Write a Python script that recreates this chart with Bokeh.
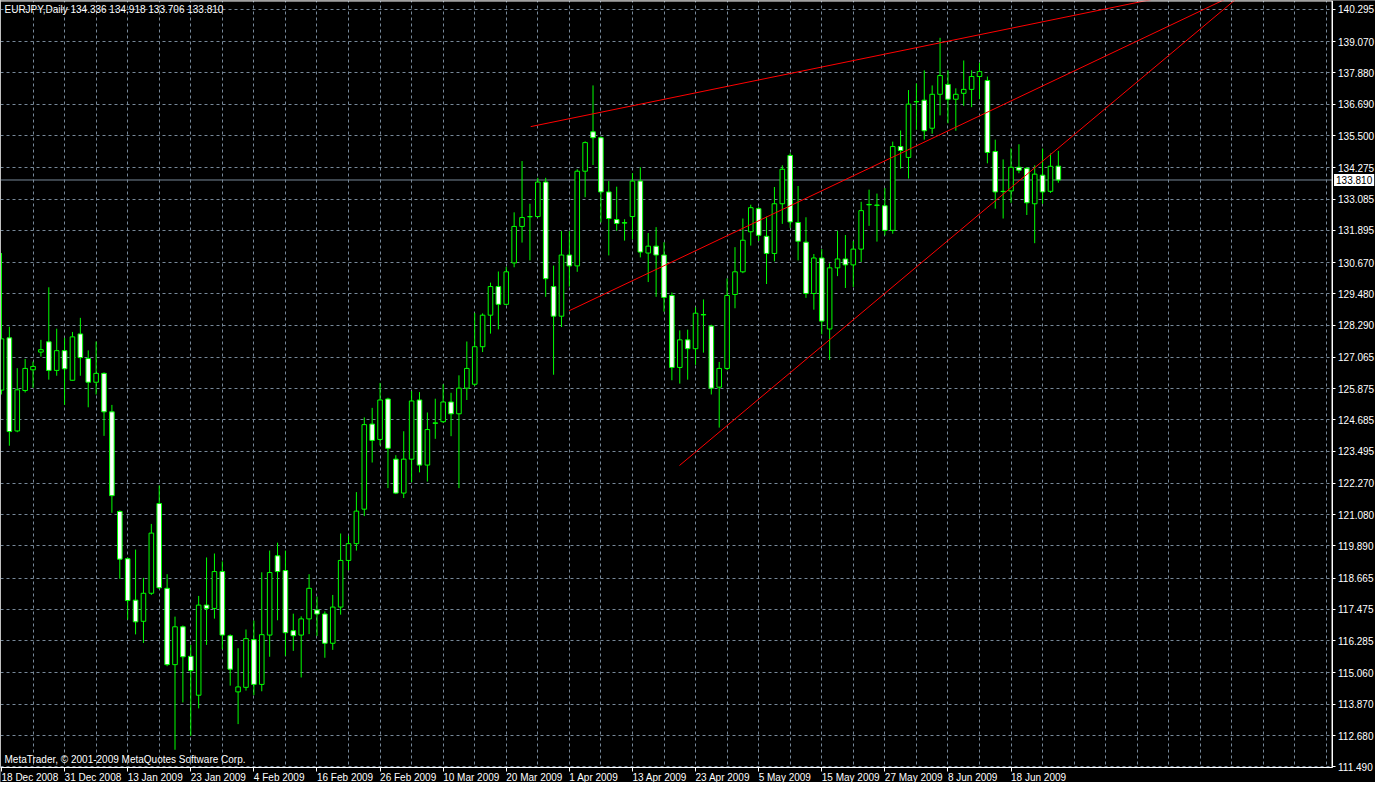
from bokeh.plotting import figure
from bokeh.models import Range1d, FixedTicker, Span, Label, ColumnDataSource, PrintfTickFormatter
from bokeh.embed import file_html
from bokeh.resources import INLINE

symbol_text = "EURJPY,Daily  134.336 134.918 133.706 133.810"
copyright_text = "MetaTrader, © 2001-2009 MetaQuotes Software Corp."

date_labels = ["18 Dec 2008", "31 Dec 2008", "13 Jan 2009", "23 Jan 2009", "4 Feb 2009",
               "16 Feb 2009", "26 Feb 2009", "10 Mar 2009", "20 Mar 2009", "1 Apr 2009",
               "13 Apr 2009", "23 Apr 2009", "5 May 2009", "15 May 2009", "27 May 2009",
               "8 Jun 2009", "18 Jun 2009"]
date_label_bars = [0, 8, 16, 24, 32, 40, 48, 56, 64, 72, 80, 88, 96, 104, 112, 120, 128]

price_ticks = [140.295, 139.070, 137.880, 136.690, 135.500, 134.275, 133.085, 131.895,
               130.670, 129.480, 128.290, 127.065, 125.875, 124.685, 123.495, 122.270,
               121.080, 119.890, 118.665, 117.475, 116.285, 115.060, 113.870, 112.680, 111.490]

opens = [125.818, 127.805, 124.265, 125.802, 126.590, 127.265, 127.655, 126.568, 127.318, 126.193,
         127.955, 127.018, 126.118, 126.455, 124.992, 121.204, 119.404, 117.829, 117.026, 118.091,
         121.504, 118.279, 115.376, 116.816, 115.691, 114.213, 117.641, 117.514, 118.916, 116.478,
         114.340, 114.513, 116.328, 114.625, 116.501, 119.516, 118.954, 116.666, 116.501, 117.116,
         117.454, 117.303, 116.189, 117.566, 119.340, 119.978, 121.290, 124.527, 123.942, 125.480,
         123.192, 121.902, 123.192, 125.442, 122.967, 124.553, 124.617, 125.367, 124.917, 125.892,
         126.042, 127.468, 128.668, 129.756, 129.081, 130.656, 132.044, 132.419, 132.419, 133.731,
         129.756, 128.630, 130.956, 130.543, 134.144, 135.644, 135.419, 133.356, 132.306, 132.186,
         132.419, 133.769, 131.031, 131.293, 130.956, 129.418, 126.680, 127.730, 127.393, 128.691,
         128.255, 125.930, 126.643, 129.456, 130.318, 131.841, 132.719, 131.668, 131.016, 132.906,
         134.744, 132.194, 131.444, 129.493, 130.843, 128.143, 130.468, 130.806, 130.581, 131.181,
         132.880, 132.843, 132.831, 131.894, 135.082, 134.669, 136.792, 136.845, 135.779, 137.070,
         137.445, 136.882, 137.107, 137.257, 137.745, 137.595, 134.894, 133.379, 133.394, 134.294,
         134.257, 132.906, 133.994, 133.379, 134.336]

highs = [131.031, 128.229, 126.654, 127.003, 126.905, 127.730, 129.729, 128.154, 127.805, 128.030,
         128.567, 127.329, 127.667, 126.493, 125.255, 121.242, 119.453, 119.753, 118.676, 120.728,
         122.191, 118.815, 117.202, 116.865, 116.126, 117.990, 119.453, 119.603, 119.303, 116.527,
         116.002, 116.715, 117.052, 118.890, 119.715, 120.015, 119.715, 117.315, 117.213, 118.815,
         117.964, 117.401, 118.027, 120.364, 120.278, 121.939, 124.779, 125.142, 126.091, 125.529,
         123.342, 124.253, 125.780, 125.742, 124.966, 125.491, 126.042, 125.716, 126.380, 127.667,
         128.754, 128.736, 129.906, 130.330, 130.506, 132.580, 134.530, 132.906, 133.893, 133.893,
         130.555, 131.867, 131.867, 134.219, 135.280, 137.407, 135.468, 133.769, 133.555, 132.317,
         134.069, 134.294, 131.792, 132.017, 131.444, 129.531, 128.090, 128.117, 128.968, 129.268,
         128.304, 126.890, 130.067, 131.256, 132.344, 132.869, 132.779, 132.419, 133.544, 134.369,
         134.830, 133.581, 132.392, 130.993, 131.181, 130.641, 131.879, 131.717, 131.492, 132.981,
         133.443, 133.293, 133.506, 135.269, 135.693, 137.231, 137.482, 137.981, 137.407, 139.219,
         137.981, 137.295, 138.356, 137.981, 138.270, 137.745, 135.344, 134.594, 135.007, 135.168,
         134.294, 134.369, 135.007, 134.819, 134.918]

lows = [125.652, 123.702, 124.216, 125.728, 125.904, 127.093, 126.215, 126.365, 125.255, 126.185,
        126.365, 125.165, 125.652, 124.077, 121.152, 118.639, 117.090, 116.527, 116.201, 118.027,
        118.252, 115.316, 112.139, 113.939, 112.664, 113.714, 116.126, 117.127, 115.964, 114.577,
        113.114, 114.389, 114.213, 114.363, 115.676, 117.063, 115.713, 115.901, 114.888, 116.538,
        116.463, 115.638, 115.938, 117.277, 118.965, 119.715, 121.028, 123.064, 123.717, 122.089,
        121.864, 121.714, 122.315, 122.689, 122.341, 123.965, 124.565, 124.066, 122.089, 125.442,
        125.979, 127.265, 127.967, 128.128, 129.043, 130.491, 131.429, 130.753, 132.392, 129.366,
        126.403, 128.218, 129.756, 130.318, 133.154, 134.380, 132.194, 130.941, 131.879, 131.504,
        131.556, 130.866, 129.928, 129.366, 128.803, 126.193, 126.065, 126.215, 126.778, 127.243,
        125.652, 124.392, 126.579, 128.931, 130.266, 131.316, 131.492, 129.853, 130.716, 132.141,
        131.991, 130.753, 129.328, 128.878, 127.940, 126.965, 130.153, 129.703, 129.741, 130.693,
        132.066, 131.466, 131.706, 131.766, 134.242, 133.866, 135.719, 135.344, 135.569, 136.267,
        135.967, 135.682, 136.631, 136.582, 136.882, 134.444, 132.719, 132.344, 132.944, 134.069,
        132.479, 131.406, 132.906, 133.319, 133.706]

closes = [127.768, 124.242, 125.829, 126.643, 126.718, 127.355, 126.568, 127.318, 126.628, 127.843,
          127.055, 126.118, 126.455, 124.992, 121.804, 119.389, 117.814, 117.003, 118.091, 120.379,
          118.301, 115.376, 116.816, 115.676, 115.150, 117.641, 117.514, 118.916, 116.501, 115.203,
          114.528, 116.366, 114.625, 116.516, 118.879, 118.916, 116.591, 116.478, 117.116, 118.279,
          117.303, 116.189, 117.566, 119.340, 119.978, 121.215, 124.505, 123.905, 125.442, 123.604,
          121.902, 123.192, 125.405, 122.967, 124.317, 124.572, 125.367, 124.917, 125.892, 126.643,
          127.468, 128.668, 129.756, 129.081, 130.318, 132.044, 132.381, 132.411, 133.731, 130.056,
          128.630, 130.956, 130.543, 134.144, 135.232, 135.419, 133.356, 132.344, 132.156, 132.171,
          133.769, 131.069, 131.293, 130.956, 129.343, 126.680, 127.730, 127.393, 128.743, 128.679,
          125.892, 126.643, 129.418, 130.318, 131.519, 132.756, 131.706, 131.016, 132.906, 134.219,
          132.216, 131.481, 129.493, 130.843, 128.443, 130.468, 130.806, 130.581, 131.181, 132.644,
          132.865, 132.858, 131.894, 135.082, 134.932, 136.695, 136.784, 135.682, 137.070, 137.782,
          136.882, 137.070, 137.257, 137.745, 137.932, 134.857, 133.356, 133.371, 134.294, 134.182,
          132.944, 134.032, 133.356, 134.332, 133.810]

last_price = 133.810

# trend lines drawn on the chart (bar index, price)
trend_start_bar = [67.1, 72.0, 85.96]
trend_start_price = [135.84, 128.84, 122.95]
trend_end_bar = [170.0, 170.0, 170.0]
trend_end_price = [142.16, 142.80, 144.08]

FONT = "Liberation Sans"
FS = "10px"
GREEN = "#00ff00"
GRID = "#778899"

# chart window (in bar / price units) and full canvas ranges
CH_LEFT, CH_RIGHT = -0.125, 168.7
CH_BOTTOM, CH_TOP = 111.464, 140.618
X_END = 174.21
Y_START, Y_END = 110.8935, 140.637

bars = list(range(len(opens)))
src = ColumnDataSource(dict(
    x=bars,
    open=opens, high=highs, low=lows, close=closes,
    top=[max(o, c) for o, c in zip(opens, closes)],
    bottom=[min(o, c) for o, c in zip(opens, closes)],
    fill=["white" if c < o else "black" for o, c in zip(opens, closes)],
))

p = figure(width=1375, height=782, output_backend="svg", toolbar_location=None,
           x_range=Range1d(CH_LEFT, X_END), y_range=Range1d(Y_START, Y_END),
           y_axis_location="right",
           background_fill_color="black", border_fill_color="black",
           outline_line_color=None, min_border=0,
           min_border_left=0, min_border_right=0, min_border_top=0, min_border_bottom=0)

# grid
p.xgrid.ticker = FixedTicker(ticks=list(range(4, 169, 4)))
for g in (p.xgrid, p.ygrid):
    g.grid_line_color = GRID
    g.grid_line_dash = "3 3"
    g.grid_line_width = 1

# current price line
p.add_layout(Span(location=last_price, dimension="width", line_color=GRID, line_width=1,
                  level="underlay"))

# y axis (price scale) at the right edge of the chart window
p.yaxis.fixed_location = CH_RIGHT
p.yaxis.bounds = (CH_BOTTOM, CH_TOP)
p.yaxis.ticker = FixedTicker(ticks=price_ticks)
p.yaxis.formatter = PrintfTickFormatter(format="%.3f")
p.yaxis.major_label_text_color = "white"
p.yaxis.major_label_text_font = FONT
p.yaxis.major_label_text_font_size = FS
p.yaxis.axis_line_color = "white"
p.yaxis.major_tick_line_color = "white"
p.yaxis.major_tick_out = 3
p.yaxis.major_tick_in = 0
p.yaxis.minor_tick_line_color = None
p.yaxis.major_label_standoff = 3

# x axis (time scale) at the bottom edge of the chart window
p.xaxis.fixed_location = CH_BOTTOM
p.xaxis.bounds = (CH_LEFT, CH_RIGHT)
p.xaxis.ticker = FixedTicker(ticks=date_label_bars)
p.xaxis.major_label_text_color = None
p.xaxis.axis_line_color = "white"
p.xaxis.major_tick_line_color = "white"
p.xaxis.major_tick_out = 4
p.xaxis.major_tick_in = 0
p.xaxis.minor_tick_line_color = None

# candles
p.segment(x0="x", y0="low", x1="x", y1="high", source=src, line_color=GREEN, line_width=1)
p.vbar(x="x", width=0.58, top="top", bottom="bottom", source=src,
       fill_color="fill", line_color=GREEN, line_width=1)

# trend lines
p.segment(x0=trend_start_bar, y0=trend_start_price, x1=trend_end_bar, y1=trend_end_price,
          line_color="#ff0000", line_width=1)

# mask the scale areas outside the chart window, then the window border
p.quad(left=[CH_RIGHT, CH_LEFT], right=[X_END, X_END], bottom=[Y_START, Y_START],
       top=[Y_END, CH_BOTTOM], fill_color="black", line_color=None)
p.quad(left=[CH_LEFT], right=[CH_RIGHT], bottom=[CH_BOTTOM], top=[CH_TOP],
       fill_color=None, line_color="white", line_width=1)

# texts
p.add_layout(Label(x=CH_LEFT, y=CH_TOP, x_offset=4, y_offset=-3, text=symbol_text,
                   text_baseline="top", text_color="white", text_font=FONT, text_font_size=FS))
p.add_layout(Label(x=CH_LEFT, y=CH_BOTTOM, x_offset=4, y_offset=3, text=copyright_text,
                   text_baseline="bottom", text_color="white", text_font=FONT, text_font_size=FS))
for b, lab in zip(date_label_bars, date_labels):
    p.add_layout(Label(x=b, y=CH_BOTTOM, x_offset=0, y_offset=-4, text=lab,
                       text_baseline="top", text_align="left", text_color="white",
                       text_font=FONT, text_font_size=FS))
p.add_layout(Label(x=CH_RIGHT, y=last_price, x_offset=2, text="%.3f" % last_price,
                   text_baseline="middle", text_color="black", text_font=FONT, text_font_size=FS,
                   background_fill_color="white", padding=2))

open("out.html", "w").write(file_html(p, INLINE))
